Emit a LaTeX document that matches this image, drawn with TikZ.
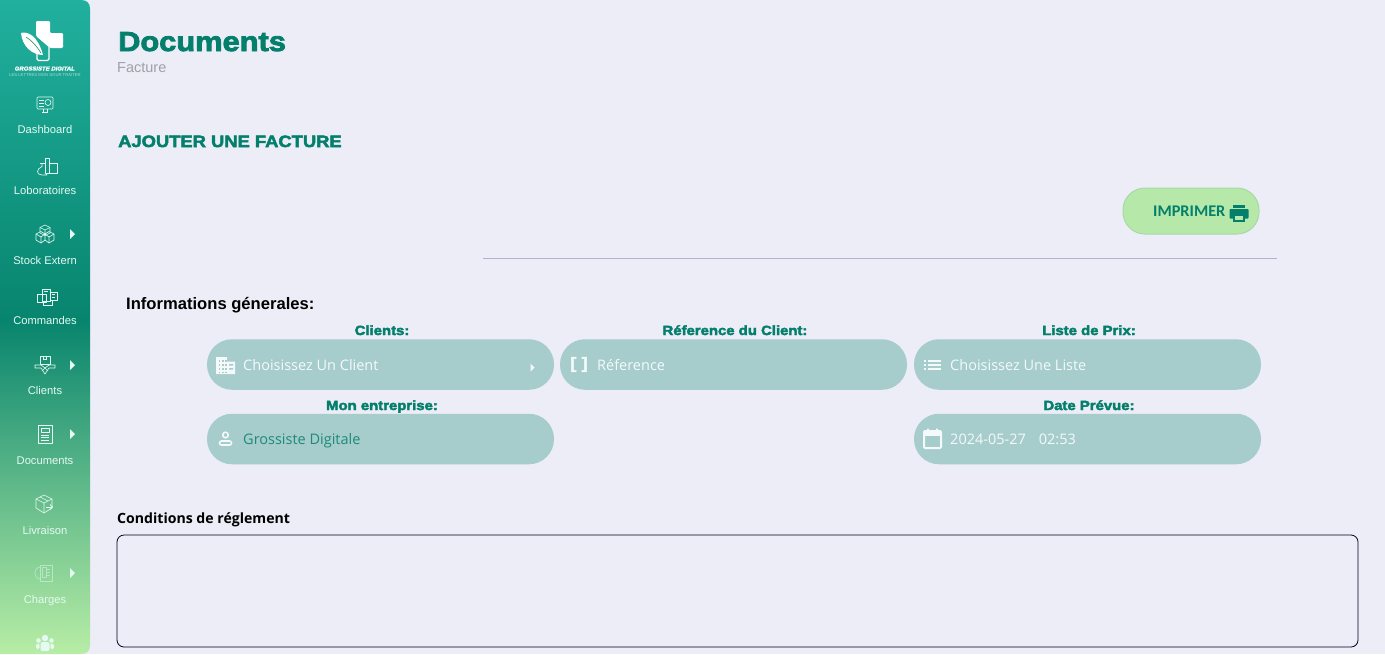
\documentclass[tikz,border=0pt]{standalone}
\usepackage{fontspec}
\setmainfont{Liberation Sans}
\newfontfamily\heavyfont[FakeBold=3,FakeStretch=1.12]{Liberation Sans Bold}
\newfontfamily\logofont[FakeBold=1.5,FakeSlant=.2,FakeStretch=1.05]{Liberation Sans Bold}
\newfontfamily\fieldfont{Open Sans}
\newfontfamily\btnfont{Carlito Bold}
\usetikzlibrary{positioning}
\definecolor{pagebg}{HTML}{ECEDF7}
\definecolor{brandgreen}{HTML}{047F6C}
\definecolor{pillfill}{HTML}{A6CCCC}
\definecolor{pilltext}{HTML}{F4FAFA}
\definecolor{sidetext}{HTML}{E4FAF2}
\definecolor{btnfill}{HTML}{B5E8A9}
\definecolor{btnline}{HTML}{A8D9A6}
\definecolor{rulegray}{HTML}{B3B3CB}
\pgfdeclareverticalshading{sidebarshade}{100bp}{
	rgb(0bp)=(0.72,0.93,0.65);
	rgb(25bp)=(0.72,0.93,0.65);
	rgb(50.5bp)=(0.03,0.52,0.43);
	rgb(75bp)=(0.13,0.69,0.62);
	rgb(100bp)=(0.13,0.69,0.62)}
\tikzset{
	pics/iconmonitor/.style={code={
		\draw[rounded corners=1pt] (-8,-7) rectangle (8,5);
		\draw (-3,8) -- (3,8) (-2,5) -- (-2,8) (2,5) -- (2,8);
		\draw (-6,-4) -- (-1,-4) (-6,-1) -- (-1,-1) (-6,2) -- (-1,2);
		\draw (3,-1.5) circle (3);
	}},
	pics/iconflask/.style={code={
		\draw (-2,-9) -- (2,-9) -- (2,6) -- (-2,6) -- cycle;
		\draw (-5,-3.5) -- (-5,-0.5) .. controls (-11,2) and (-11,8) .. (-5,8) -- (0,8) -- (-2,5);
		\draw (-7,-3.5) -- (-2,-3.5);
		\draw (2,-4) -- (10,-4) -- (10,6) -- (2,6);
	}},
	pics/iconboxes/.style={code={
		\draw (0,-9) -- (5,-6.5) -- (5,-1) -- (0,1.5) -- (-5,-1) -- (-5,-6.5) -- cycle;
		\draw (-5,-6.5) -- (0,-4) -- (5,-6.5) (0,-4) -- (0,1.5);
		\draw (-9,0) -- (-4,-2.5) -- (0,0) -- (0,6) -- (-4,9) -- (-9,6) -- cycle;
		\draw (9,0) -- (4,-2.5) -- (0,0) (0,6) -- (4,9) -- (9,6) -- (9,0);
		\draw (-9,0) -- (-4,3) -- (0,0) (0,0) -- (4,3) -- (9,0) (-4,3) -- (-4,9) (4,3) -- (4,9);
	}},
	pics/iconorders/.style={code={
		\draw (-5,-8) rectangle (3,4);
		\draw (3,-5) rectangle (10,3);
		\draw (-10,-3) rectangle (-1,5);
		\draw (-4,5) -- (-4,8) -- (5,8) -- (5,3);
		\draw (-3,-6) -- (1,-6) (5,-3) -- (8,-3) (5,0) -- (8,0);
	}},
	pics/iconhands/.style={code={
		\draw (-5,-9) rectangle (5,-1);
		\draw (-1.5,-9) -- (-1.5,-6) -- (1.5,-6) -- (1.5,-9);
		\draw (-10,0) -- (-4,0) -- (0,3) -- (4,0) -- (10,0) -- (10,3) -- (4,3) -- (0,9) -- (-4,3) -- (-10,3) -- cycle;
		\draw (-3,6) -- (0,3) -- (3,6);
	}},
	pics/icondoc/.style={code={
		\draw (-7,-9) rectangle (7,9);
		\draw (-4,-6) rectangle (4,-2);
		\draw (-4,1) -- (4,1) (-4,3.5) -- (4,3.5) (-4,6) -- (4,6);
	}},
	pics/iconparcel/.style={code={
		\draw (0,-9) -- (8,-5) -- (8,4) -- (0,9) -- (-8,4) -- (-8,-5) -- cycle;
		\draw (-8,-5) -- (0,-1) -- (8,-5) (0,-1) -- (0,9) (-4,-7) -- (4,-3);
		\draw[->,line width=1pt] (2,3) -- (9,3);
	}},
	pics/iconcharge/.style={code={
		\draw (-4,-8) rectangle (8,8);
		\draw (-2,-6) rectangle (2,4);
		\draw (3,-4) -- (6,-4) (3,-1) -- (6,-1) (3,2) -- (6,2);
		\draw (-4,-6) .. controls (-11,-5) and (-11,5) .. (-4,6);
	}},
	pics/icongroup/.style={code={
		\fill (0,-7) circle (3.2);
		\fill (-6.5,-4.5) circle (2.3);
		\fill (6.5,-4.5) circle (2.3);
		\fill[rounded corners=1.5pt] (-4.5,-3) rectangle (4.5,6);
		\fill[rounded corners=1.5pt] (-9,-1.5) rectangle (-5.3,4);
		\fill[rounded corners=1.5pt] (5.3,-1.5) rectangle (9,4);
	}},
	pics/sidearrow/.style={code={
		\fill (-2.5,-5) -- (2.5,0) -- (-2.5,5) -- cycle;
	}}
}
\begin{document}
\begin{tikzpicture}
	[x=1pt, y=-1pt,
	 sidelabel/.style={anchor=base, inner sep=0pt, text=sidetext, font=\fontsize{11.2}{13}\selectfont},
	 sideicon/.style={draw=sidetext, fill=none, line width=.65pt, line join=round},
	 sidefill/.style={fill=sidetext},
	 pill/.style={fill=pillfill, rounded corners=25pt, minimum width=347pt, minimum height=50.5pt, inner sep=0pt},
	 fieldlabel/.style={anchor=base, inner sep=0pt, text=brandgreen, font=\heavyfont\fontsize{13.3}{15}\selectfont},
	 fieldtext/.style={anchor=base west, inner sep=0pt, text=pilltext, font=\fieldfont\fontsize{14.5}{17}\selectfont},
	 titletext/.style={anchor=base west, inner sep=0pt}]
	\useasboundingbox (0,0) rectangle (1385,654);
	\fill[pagebg] (0,0) rectangle (1385,654);

	% sidebar
	\path[shading=sidebarshade] (0,0) -- (81,0) .. controls (87,0) and (90,3) .. (90,9)
		-- (90,645) .. controls (90,651) and (87,654) .. (81,654) -- (0,654) -- cycle;

	% logo
	\fill[white, rounded corners=1.2pt] (36,21) -- (50,21) -- (50,33) -- (63,33) -- (63,48) -- (50,48) -- (36,36) -- cycle;
	\draw[white, line width=1.3pt, rounded corners=1.5pt] (37,50) -- (37,60.5) -- (49,60.5) -- (49,47);
	\fill[white] (21,33) .. controls (28,31) and (38,36) .. (43,55) .. controls (32,55) and (22,46) .. (21,33) -- cycle;
	\draw[teal!70!green!80!black, line width=.5pt] (26,37) .. controls (31,40) and (36,45) .. (41,53);
	\node[anchor=base, inner sep=0pt, text=white, font=\logofont\fontsize{5.7}{7}\selectfont] (logoname) at (44.5,70.5) {GROSSISTE DIGITAL};
	\node[anchor=base, inner sep=0pt, text=white!70!teal, font=\fontsize{4.2}{6}\selectfont] (logotag) at (45,76.5) {LES LETTRES MON SOUR TRAITER};

	% sidebar items
	\pic[sideicon] (dashicon) at (45,104) {iconmonitor};
	\node[sidelabel] (dashboard) at (45,133.5) {Dashboard};
	\pic[sideicon] (labicon) at (47,167) {iconflask};
	\node[sidelabel] (labos) at (45,194) {Loboratoires};
	\pic[sideicon] (stockicon) at (45,234) {iconboxes};
	\node[sidelabel] (stock) at (45,264) {Stock Extern};
	\pic[sideicon] (ordersicon) at (47,297) {iconorders};
	\node[sidelabel] (commandes) at (45,324) {Commandes};
	\pic[sideicon] (clientsicon) at (45,365) {iconhands};
	\node[sidelabel] (clients) at (45,394) {Clients};
	\pic[sideicon] (docsicon) at (45,434) {icondoc};
	\node[sidelabel] (documents) at (45,464) {Documents};
	\pic[sideicon] (parcelicon) at (44,504) {iconparcel};
	\node[sidelabel] (livraison) at (45,534) {Livraison};
	\pic[sideicon, opacity=.5] (chargesicon) at (44,573) {iconcharge};
	\node[sidelabel] (charges) at (45,603) {Charges};
	\pic[sidefill] (teamicon) at (45,645) {icongroup};
	\foreach \ay/\aname in {234/stock, 365/clients, 434/docs, 573/charges}
		\pic[sidefill] (arrow\aname) at (72.5,\ay) {sidearrow};

	% heading
	\node[titletext, text=brandgreen, font=\heavyfont\fontsize{27.5}{30}\selectfont] (title) at (118,51) {Documents};
	\node[titletext, text=black!30!pagebg!85!gray, font=\fontsize{14.5}{17}\selectfont] (subtitle) at (117,72) {Facture};
	\node[titletext, text=brandgreen, font=\heavyfont\fontsize{16.4}{19}\selectfont] (addtitle) at (118,147) {AJOUTER UNE FACTURE};

	% print button and rule
	\node[draw=btnline, fill=btnfill, line width=1pt, rounded corners=22pt, minimum width=136pt, minimum height=46pt, inner sep=0pt] (printbtn) at (1191,211) {};
	\node[titletext, text=brandgreen, font=\btnfont\fontsize{16.3}{18}\selectfont] (printtext) at (1153,216) {IMPRIMER};
	\fill[brandgreen, rounded corners=.8pt] (1229.5,209) rectangle (1248.5,218.5);
	\fill[brandgreen] (1233,204.5) rectangle (1245,207.8);
	\fill[brandgreen] (1233,215) rectangle (1245,222);
	\fill[btnfill] (1235,215.5) rectangle (1243,220);
	\draw[rulegray, line width=1.2pt] (483,258.5) -- (1277,258.5);

	% general informations
	\node[titletext, font=\bfseries\fontsize{16.6}{19}\selectfont] (infos) at (126,309) {Informations génerales:};

	\node[pill] (clientpill) at (380.5,364.5) {};
	\node[pill] (refpill) at (733.5,364.5) {};
	\node[pill] (listepill) at (1087.5,364.5) {};
	\node[pill] (mepill) at (380.5,439) {};
	\node[pill] (datepill) at (1087.5,439) {};

	\node[fieldlabel] (clientlabel) at (382,335) {Clients:};
	\node[fieldlabel] (reflabel) at (735,335) {Réference du Client:};
	\node[fieldlabel] (listelabel) at (1089,335) {Liste de Prix:};
	\node[fieldlabel] (melabel) at (382,410) {Mon entreprise:};
	\node[fieldlabel] (datelabel) at (1089,410) {Date Prévue:};

	\node[fieldtext] (clienttext) at (243,370) {Choisissez Un Client};
	\node[fieldtext] (reftext) at (597,370) {Réference};
	\node[fieldtext] (listetext) at (950,370) {Choisissez Une Liste};
	\node[fieldtext, text=brandgreen!85!pillfill] (metext) at (243,444) {Grossiste Digitale};
	\node[fieldtext] (datetext) at (950,444) {2024-05-27\hspace{13pt}02:53};

	% field icons
	\fill[pilltext] (216,357) rectangle (227,374) (227,361.5) rectangle (235,374);
	\foreach \bx in {218.5,222,225.2} \foreach \by in {360,364,368,371.5}
		\fill[pillfill] (\bx,\by) rectangle ++(1.6,1.8);
	\fill[pillfill] (229,364) rectangle (233,365.5) (229,368) rectangle (233,369.5);
	\node[inner sep=0pt, text=pilltext, font=\heavyfont\fontsize{16}{19}\selectfont] (reficon) at (579,364.5) {[\,\,]};
	\foreach \ly in {361,365,369} {
		\fill[pilltext] (924,\ly-.9) rectangle (926.2,\ly+.9);
		\fill[pilltext] (928,\ly-.9) rectangle (941,\ly+.9);
	}
	\draw[pilltext, line width=1.6pt] (225.5,435) circle (2.8);
	\draw[pilltext, line width=1.6pt, rounded corners=2pt] (219.5,445) -- (219.5,441) -- (231.5,441) -- (231.5,445) -- cycle;
	\draw[pilltext, line width=2pt, rounded corners=1pt] (924,431) rectangle (941,448);
	\fill[pilltext] (924,431) rectangle (941,435.5);
	\fill[pilltext] (927,428.5) rectangle (929,432) (936,428.5) rectangle (938,432);
	\pic[fill=pilltext, scale=.8] (clientarrow) at (532.5,367.5) {sidearrow};

	% payment conditions
	\node[titletext, font=\fieldfont\bfseries\fontsize{14.1}{17}\selectfont] (condlabel) at (117,523) {Conditions de réglement};
	\node[draw=black!90!blue, line width=.8pt, rounded corners=7pt, minimum width=1241pt, minimum height=112pt, inner sep=0pt] (condbox) at (737.5,591) {};
\end{tikzpicture}
\end{document}
